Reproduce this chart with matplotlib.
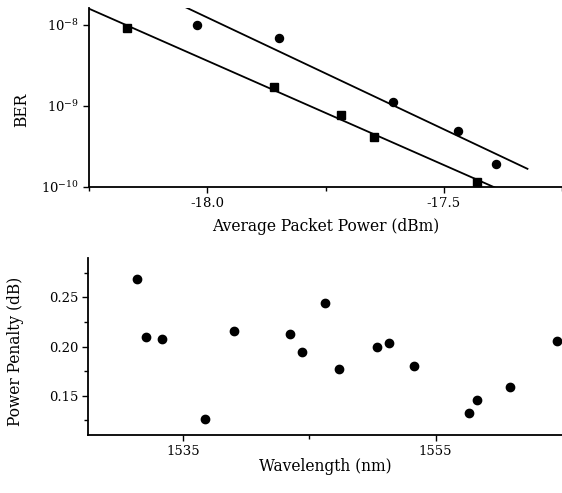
import matplotlib
matplotlib.use('Agg')
import matplotlib.pyplot as plt
import numpy as np
from matplotlib.ticker import FixedLocator, NullLocator

# Data - top panel (BER vs average packet power)
sq_power = [-18.170, -17.859, -17.718, -17.648, -17.429]
sq_ber = [9.1e-9, 1.73e-9, 7.7e-10, 4.17e-10, 1.15e-10]
ci_power = [-18.021, -17.848, -17.608, -17.470, -17.389]
ci_ber = [1.01e-8, 7.0e-9, 1.12e-9, 4.94e-10, 1.9e-10]

# Data - bottom panel (power penalty vs wavelength)
wavelength = [1531.35, 1532.05, 1533.36, 1536.73, 1539.05, 1543.50, 1544.43, 1546.27,
              1547.35, 1550.33, 1551.29, 1553.27, 1557.61, 1558.29, 1560.92, 1564.58]
penalty = [0.269, 0.210, 0.208, 0.126, 0.216, 0.213, 0.194, 0.244,
           0.177, 0.200, 0.204, 0.180, 0.132, 0.146, 0.159, 0.206]

plt.rcParams['font.family'] = ['DejaVu Serif']
plt.rcParams['mathtext.fontset'] = 'dejavuserif'
plt.rcParams['axes.unicode_minus'] = False

fig = plt.figure(figsize=(5.62, 4.93), dpi=100)
ax1 = fig.add_axes([0.1584, 0.6207, 0.8416, 0.3631])
ax2 = fig.add_axes([0.1566, 0.1176, 0.8434, 0.3591])

# log-linear fits for the top panel
sq_fit = np.polyfit(sq_power, np.log10(sq_ber), 1)
ci_fit = np.polyfit(ci_power, np.log10(ci_ber), 1)
xs_sq = np.linspace(-18.25, -17.38, 50)
xs_ci = np.linspace(-18.10, -17.323, 50)
ax1.plot(xs_sq, 10 ** np.polyval(sq_fit, xs_sq), color='black', lw=1.3)
ax1.plot(xs_ci, 10 ** np.polyval(ci_fit, xs_ci), color='black', lw=1.3)
ax1.plot(sq_power, sq_ber, 's', color='black', ms=5.5, clip_on=False)
ax1.plot(ci_power, ci_ber, 'o', color='black', ms=5.8, clip_on=False)

ax1.set_yscale('log')
ax1.set_xlim(-18.25, -17.25)
ax1.set_ylim(1e-10, 10 ** -7.79)
ax1.yaxis.set_major_locator(FixedLocator([1e-10, 1e-9, 1e-8]))
ax1.yaxis.set_minor_locator(NullLocator())
ax1.xaxis.set_major_locator(FixedLocator([-18.0, -17.5]))
ax1.xaxis.set_minor_locator(FixedLocator([-18.25, -17.75, -17.25]))
ax1.set_xticklabels(['-18.0', '-17.5'])
ax1.set_xlabel('Average Packet Power (dBm)', fontsize=11.2, labelpad=6)
ax1.set_ylabel('BER', fontsize=11.2)
ax1.yaxis.set_label_coords(-0.125, 0.43)

ax2.plot(wavelength, penalty, 'o', color='black', ms=6)
ax2.set_xlim(1527.5, 1565)
ax2.set_ylim(0.11, 0.29)
ax2.xaxis.set_major_locator(FixedLocator([1535, 1555]))
ax2.xaxis.set_minor_locator(FixedLocator([1545]))
ax2.yaxis.set_major_locator(FixedLocator([0.15, 0.20, 0.25]))
ax2.yaxis.set_minor_locator(FixedLocator([0.125, 0.175, 0.225, 0.275]))
ax2.set_yticklabels(['0.15', '0.20', '0.25'])
ax2.set_xlabel('Wavelength (nm)', fontsize=11.2, labelpad=0)
ax2.set_ylabel('Power Penalty (dB)', fontsize=11.2)
ax2.yaxis.set_label_coords(-0.135, 0.472)

for ax in (ax1, ax2):
    ax.spines['top'].set_visible(False)
    ax.spines['right'].set_visible(False)
    ax.spines['left'].set_linewidth(1.3)
    ax.spines['bottom'].set_linewidth(1.3)
    ax.tick_params(which='major', direction='out', length=4, width=1, labelsize=9.5, pad=3)
    ax.tick_params(which='minor', direction='out', length=3, width=1)

fig.savefig('out.png', dpi=100, facecolor='white')
